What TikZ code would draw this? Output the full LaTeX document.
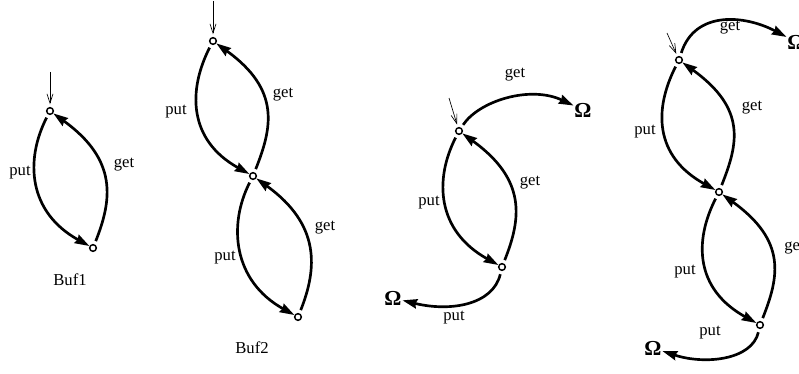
\documentclass[tikz,border=0pt]{standalone}
\usepackage{fontspec}
\setmainfont{Liberation Serif}
\usetikzlibrary{arrows.meta}
\tikzset{
  st/.style={circle, draw, fill=white, line width=1.1pt, inner sep=0pt, minimum size=5pt},
  tr/.style={line width=2pt, -{Stealth[length=11pt,width=7pt,inset=1pt]}, shorten <=2.5pt},
  init/.style={line width=0.5pt, -{Straight Barb[length=7pt,width=4.5pt]}, shorten >=2pt},
  lbl/.style={font=\fontsize{12.5}{14}\selectfont, inner sep=0pt},
  omega/.style={font=\fontsize{16}{17}\selectfont\bfseries, inner sep=0.5pt},
}
\begin{document}
\begin{tikzpicture}[x=0.75pt,y=-0.75pt]
\useasboundingbox (0,0) rectangle (799,374);

% ---------- Buf1 ----------
\node[st] (a1) at (50,111) {};
\node[st] (b1) at (93,248) {};
\coordinate (i1) at (50,72);
\draw[init] (i1) -- (a1);
\draw[tr] (a1) .. controls +(-25,49) and +(-65,-36) .. (b1);
\draw[tr] (b1) .. controls +(19,-48) and +(68,49) .. (a1);
\node[lbl] (p1) at (20,173) {put};
\node[lbl] (g1) at (124,165) {get};
\node[lbl] (n1) at (70,280) {Buf1};

% ---------- Buf2 ----------
\node[st] (a2) at (213,41) {};
\node[st] (m2) at (253,176) {};
\node[st] (b2) at (298,317) {};
\coordinate (i2) at (213,1);
\draw[init] (i2) -- (a2);
\draw[tr] (a2) .. controls +(-25,49) and +(-65,-36) .. (m2);
\draw[tr] (m2) .. controls +(19,-48) and +(68,49) .. (a2);
\draw[tr] (m2) .. controls +(-25,49) and +(-65,-36) .. (b2);
\draw[tr] (b2) .. controls +(19,-48) and +(68,49) .. (m2);
\node[lbl] (p2a) at (176,112) {put};
\node[lbl] (g2a) at (283,95) {get};
\node[lbl] (p2b) at (225,258) {put};
\node[lbl] (g2b) at (325,228) {get};
\node[lbl] (n2) at (252,348) {Buf2};

% ---------- third net ----------
\node[st] (a3) at (459,131) {};
\node[st] (b3) at (502,267) {};
\node[omega] (o3r) at (583,110) {Ω};
\node[omega] (o3l) at (393,298) {Ω};
\coordinate (i3) at (449,98);
\draw[init] (i3) -- (a3);
\draw[tr] (a3) .. controls +(-25,49) and +(-65,-36) .. (b3);
\draw[tr] (b3) .. controls +(19,-48) and +(68,49) .. (a3);
\draw[tr] (a3) .. controls (479,101) and (530,85) .. (o3r);
\draw[tr] (b3) .. controls (493,305) and (450,312) .. (o3l);
\node[lbl] (g3o) at (515,75) {get};
\node[lbl] (g3) at (530,183) {get};
\node[lbl] (p3) at (429,203) {put};
\node[lbl] (p3o) at (454,318) {put};

% ---------- fourth net ----------
\node[st] (a4) at (679,60) {};
\node[st] (m4) at (719,192) {};
\node[st] (b4) at (760,325) {};
\node[omega] (o4r) at (796,42) {Ω};
\node[omega] (o4l) at (653,348) {Ω};
\coordinate (i4) at (667,33);
\draw[init] (i4) -- (a4);
\draw[tr] (a4) .. controls +(-25,49) and +(-65,-36) .. (m4);
\draw[tr] (m4) .. controls +(19,-48) and +(68,49) .. (a4);
\draw[tr] (m4) .. controls +(-25,49) and +(-65,-36) .. (b4);
\draw[tr] (b4) .. controls +(19,-48) and +(68,49) .. (m4);
\draw[tr] (a4) .. controls (695,10) and (745,15) .. (o4r);
\draw[tr] (b4) .. controls (752,360) and (705,365) .. (o4l);
\node[lbl] (g4o) at (730,28) {get};
\node[lbl] (g4a) at (752,108) {get};
\node[lbl] (p4a) at (645,132) {put};
\node[lbl] (p4b) at (685,272) {put};
\node[lbl, anchor=west] (g4b) at (784,248) {get};
\node[lbl] (p4o) at (710,333) {put};
\end{tikzpicture}
\end{document}
